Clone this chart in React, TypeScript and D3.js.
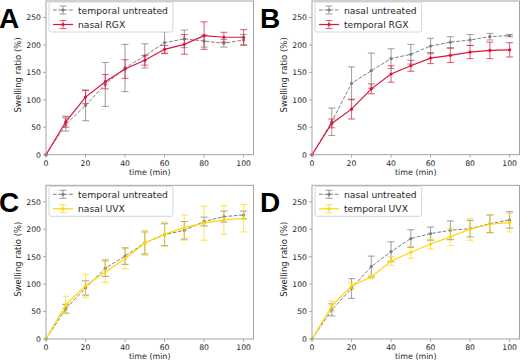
import React, { useEffect, useRef } from 'react';
import * as d3 from 'd3';

// time points (min)
const times = [0, 10, 20, 30, 40, 50, 60, 70, 80, 90, 100];
const yTicks = [0, 50, 100, 150, 200, 250];
const xTicks = [0, 20, 40, 60, 80, 100];

// Panel A
const aLabels = ['temporal untreated', 'nasal RGX'];
const aGray = [0, 55, 90, 128, 158, 180, 204, 211, 207, 203, 209];
const aGrayErr = [0, 12, 28, 40, 43, 22, 20, 16, 11, 7, 10];
const aRed = [0, 60, 105, 133, 156, 172, 192, 201, 217, 214, 214];
const aRedErr = [0, 10, 12, 13, 17, 9, 7, 18, 25, 9, 14];

// Panel B
const bLabels = ['nasal untreated', 'temporal RGX'];
const bGray = [0, 60, 130, 153, 175, 183, 198, 205, 209, 215, 217];
const bGrayErr = [0, 25, 30, 32, 18, 18, 14, 10, 10, 6, 2];
const bRed = [0, 57, 83, 120, 147, 162, 176, 181, 187, 190, 191];
const bRedErr = [0, 8, 18, 9, 15, 10, 10, 13, 12, 15, 13];

// Panel C
const cLabels = ['temporal untreated', 'nasal UVX'];
const cGray = [0, 55, 93, 129, 151, 175, 190, 198, 214, 223, 226];
const cGrayErr = [0, 8, 13, 15, 15, 20, 20, 16, 8, 10, 7];
const cYellow = [0, 62, 97, 122, 146, 175, 191, 203, 211, 217, 220];
const cYellowErr = [0, 16, 21, 19, 18, 23, 22, 23, 31, 26, 25];

// Panel D
const dLabels = ['nasal untreated', 'temporal UVX'];
const dGray = [0, 53, 92, 132, 159, 183, 192, 198, 201, 210, 217];
const dGrayErr = [0, 11, 18, 19, 18, 16, 12, 17, 15, 16, 15];
const dYellow = [0, 60, 97, 113, 142, 158, 173, 186, 200, 209, 212];
const dYellowErr = [0, 9, 5, 3, 8, 11, 9, 16, 20, 16, 17];

const GRAY = '#7f7f7f';
const RED = '#dc143c';
const YELLOW = '#ffd700';
const TEXT = '#262626';
const FRAME = '#999999';
const FONT = "'DejaVu Sans', sans-serif";

interface Series {
  values: number[];
  errs: number[];
  color: string;
  dashed: boolean;
  label: string;
}

interface PanelDef {
  letter: string;
  ox: number;
  oy: number;
  series: Series[];
}

const panels: PanelDef[] = [
  {
    letter: 'A', ox: 0, oy: 0,
    series: [
      { values: aGray, errs: aGrayErr, color: GRAY, dashed: true, label: aLabels[0] },
      { values: aRed, errs: aRedErr, color: RED, dashed: false, label: aLabels[1] },
    ],
  },
  {
    letter: 'B', ox: 266, oy: 0,
    series: [
      { values: bGray, errs: bGrayErr, color: GRAY, dashed: true, label: bLabels[0] },
      { values: bRed, errs: bRedErr, color: RED, dashed: false, label: bLabels[1] },
    ],
  },
  {
    letter: 'C', ox: 0, oy: 184.3,
    series: [
      { values: cGray, errs: cGrayErr, color: GRAY, dashed: true, label: cLabels[0] },
      { values: cYellow, errs: cYellowErr, color: YELLOW, dashed: false, label: cLabels[1] },
    ],
  },
  {
    letter: 'D', ox: 266, oy: 184.3,
    series: [
      { values: dGray, errs: dGrayErr, color: GRAY, dashed: true, label: dLabels[0] },
      { values: dYellow, errs: dYellowErr, color: YELLOW, dashed: false, label: dLabels[1] },
    ],
  },
];

// font sizes, tuned so text widths match the reference
const FS = { tick: 7.7, label: 7.9, ylabel: 8.5, legend: 9.2 };

function drawPanel(root: d3.Selection<SVGSVGElement, unknown, null, undefined>, p: PanelDef, k: number) {
  const left = 46;
  const top = 1;
  const w = 207.5;
  const h = 153.7;

  const g = root.append('g').attr('transform', `translate(${p.ox},${p.oy})`);

  const x = d3.scaleLinear().domain([0, 105]).range([left, left + w]);
  const y = d3.scaleLinear().domain([0, 280]).range([top + h, top]);

  // series: error bars, lines, markers
  p.series.forEach(s => {
    const eb = g.append('g').attr('stroke', s.color).attr('stroke-opacity', s.color === GRAY ? 0.7 : 0.65)
      .attr('stroke-width', 1.1);
    times.forEach((t, i) => {
      if (s.errs[i] === 0) return;
      const cx = x(t);
      const y0 = y(s.values[i] - s.errs[i]);
      const y1 = y(s.values[i] + s.errs[i]);
      eb.append('line').attr('x1', cx).attr('x2', cx).attr('y1', y0).attr('y2', y1);
      eb.append('line').attr('x1', cx - 3.5).attr('x2', cx + 3.5).attr('y1', y0).attr('y2', y0);
      eb.append('line').attr('x1', cx - 3.5).attr('x2', cx + 3.5).attr('y1', y1).attr('y2', y1);
    });

    const line = d3.line<number>()
      .x((_, i) => x(times[i]))
      .y(d => y(d));
    g.append('path')
      .datum(s.values)
      .attr('fill', 'none')
      .attr('stroke', s.color)
      .attr('stroke-width', s.dashed ? 1 : 1.2)
      .attr('stroke-dasharray', s.dashed ? '3.7,1.6' : null)
      .attr('d', line);

    g.selectAll(null)
      .data(s.values)
      .enter().append('circle')
      .attr('cx', (_, i) => x(times[i]))
      .attr('cy', d => y(d))
      .attr('r', 1.6)
      .attr('fill', s.color);
  });

  // frame
  g.append('rect')
    .attr('x', left).attr('y', top).attr('width', w).attr('height', h)
    .attr('fill', 'none').attr('stroke', FRAME).attr('stroke-width', 0.9);

  // x axis ticks
  xTicks.forEach(t => {
    g.append('line').attr('x1', x(t)).attr('x2', x(t)).attr('y1', top + h).attr('y2', top + h + 3)
      .attr('stroke', FRAME).attr('stroke-width', 0.8);
    g.append('text').attr('x', x(t)).attr('y', top + h + 11)
      .attr('text-anchor', 'middle').attr('font-size', FS.tick * k).attr('font-family', FONT).attr('fill', TEXT)
      .text(t);
  });
  g.append('text').attr('x', left + w / 2).attr('y', top + h + 20.5)
    .attr('text-anchor', 'middle').attr('font-size', FS.label * k).attr('font-family', FONT).attr('fill', TEXT)
    .text('time (min)');

  // y axis ticks
  yTicks.forEach(t => {
    g.append('line').attr('x1', left - 3).attr('x2', left).attr('y1', y(t)).attr('y2', y(t))
      .attr('stroke', FRAME).attr('stroke-width', 0.8);
    g.append('text').attr('x', left - 5).attr('y', y(t) + 2.9)
      .attr('text-anchor', 'end').attr('font-size', FS.tick * k).attr('font-family', FONT).attr('fill', TEXT)
      .text(t);
  });
  g.append('text')
    .attr('transform', `translate(${left - 25},${top + h / 2 - 3}) rotate(-90)`)
    .attr('text-anchor', 'middle').attr('font-size', FS.ylabel * k).attr('font-family', FONT).attr('fill', TEXT)
    .text('Swelling ratio (%)');

  // legend
  const lx = left + 3;
  const ly = top + 1;
  const legend = g.append('g');
  const box = legend.append('rect')
    .attr('x', lx).attr('y', ly).attr('height', 30).attr('rx', 2)
    .attr('fill', 'white').attr('fill-opacity', 0.85).attr('stroke', '#cccccc').attr('stroke-width', 0.8);
  let maxW = 0;
  p.series.forEach((s, i) => {
    const ry = ly + 8 + i * 14.5;
    const hx0 = lx + 4;
    const hx1 = lx + 24;
    const hc = (hx0 + hx1) / 2;
    const eb = legend.append('g').attr('stroke', s.color).attr('stroke-opacity', s.color === GRAY ? 0.7 : 0.65)
      .attr('stroke-width', 1.1);
    eb.append('line').attr('x1', hc).attr('x2', hc).attr('y1', ry - 4).attr('y2', ry + 4);
    eb.append('line').attr('x1', hc - 3.5).attr('x2', hc + 3.5).attr('y1', ry - 4).attr('y2', ry - 4);
    eb.append('line').attr('x1', hc - 3.5).attr('x2', hc + 3.5).attr('y1', ry + 4).attr('y2', ry + 4);
    legend.append('line').attr('x1', hx0).attr('x2', hx1).attr('y1', ry).attr('y2', ry)
      .attr('stroke', s.color).attr('stroke-width', s.dashed ? 1 : 1.2)
      .attr('stroke-dasharray', s.dashed ? '3.7,1.6' : null);
    legend.append('circle').attr('cx', hc).attr('cy', ry).attr('r', 1.6).attr('fill', s.color);
    const txt = legend.append('text').attr('x', lx + 29).attr('y', ry + 3.5)
      .attr('font-size', FS.legend * k).attr('font-family', FONT).attr('fill', TEXT)
      .text(s.label);
    const node = txt.node() as SVGTextElement;
    maxW = Math.max(maxW, node.getComputedTextLength());
  });
  box.attr('width', maxW + 34);

  // panel letter
  g.append('text').attr('x', p.letter === 'A' || p.letter === 'C' ? -1 : -6).attr('y', 27.5)
    .attr('font-size', 28).attr('font-weight', 'bold').attr('font-family', "'Liberation Sans', Arial, sans-serif")
    .attr('fill', '#000')
    .text(p.letter);
}

function App() {
  const ref = useRef<SVGSVGElement>(null);

  useEffect(() => {
    if (!ref.current) return;
    const svg = d3.select(ref.current);
    svg.selectAll('*').remove();
    svg.append('rect').attr('width', 520).attr('height', 361).attr('fill', 'white');

    // measure the installed font; the reference legend entry is ~90px wide at 9.2px
    const probe = svg.append('text').attr('font-size', 10).attr('font-family', FONT).text('temporal untreated');
    const measured = (probe.node() as SVGTextElement).getComputedTextLength();
    probe.remove();
    const k = measured > 0 ? 90 / (measured * 0.92) : 1;

    panels.forEach(p => drawPanel(svg, p, k));
  }, []);

  return (
    <svg
      ref={ref}
      width={520}
      height={361}
      style={{ position: 'absolute', left: 0, top: 0, display: 'block' }}
    />
  );
}

export default App;
